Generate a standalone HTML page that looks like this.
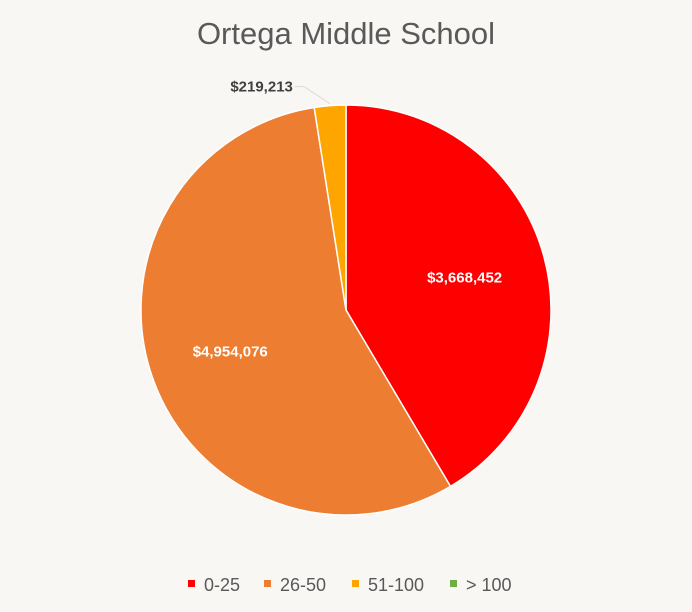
<!DOCTYPE html>
<html><head><meta charset="utf-8"><style>
body{margin:0;background:#f9f7f4;}
svg{display:block;font-family:"Liberation Sans",sans-serif;}
</style></head><body>
<svg id="c" width="692" height="612">
<rect width="692" height="612" fill="#f9f7f4"/>
<text x="346" y="44" text-anchor="middle" font-size="31" fill="#595959">Ortega Middle School</text>
<g id="slices"></g>
<g id="labels"></g>
<g id="legend"></g>
</svg>
<script>
const categories = ["0-25", "26-50", "51-100", "> 100"];
const values = [3668452, 4954076, 219213, 0];
const valueLabels = ["$3,668,452", "$4,954,076", "$219,213", ""];
const colors = ["#ff0000", "#ed7d31", "#ffa500", "#70ad47"];
const ns = "http://www.w3.org/2000/svg";
const cx = 346, cy = 310, r = 205;
const total = values.reduce((a, b) => a + b, 0);
const gS = document.getElementById("slices"), gL = document.getElementById("labels"), gG = document.getElementById("legend");
function pt(a, rr) { return [cx + rr * Math.sin(a), cy - rr * Math.cos(a)]; }
let a0 = 0;
values.forEach((v, i) => {
  if (v <= 0) return;
  const a1 = a0 + v / total * 2 * Math.PI;
  const p0 = pt(a0, r), p1 = pt(a1, r);
  const large = (a1 - a0) > Math.PI ? 1 : 0;
  const path = document.createElementNS(ns, "path");
  path.setAttribute("d", `M${cx},${cy}L${p0[0]},${p0[1]}A${r},${r} 0 ${large} 1 ${p1[0]},${p1[1]}Z`);
  path.setAttribute("fill", colors[i]);
  path.setAttribute("stroke", "#ffffff");
  path.setAttribute("stroke-width", "1.5");
  
  
  gS.appendChild(path);
  const mid = (a0 + a1) / 2;
  const t = document.createElementNS(ns, "text");
  if (v / total > 0.05) {
    const lp = pt(mid, r * 0.6);
    t.setAttribute("x", lp[0]); t.setAttribute("y", lp[1] + 5);
    t.setAttribute("fill", "#ffffff");
    t.setAttribute("text-anchor", "middle");
  } else {
    const e = pt(mid, r + 2);
    const line = document.createElementNS(ns, "polyline");
    line.setAttribute("points", `${e[0]},${e[1]} ${e[0] - 26},${e[1] - 17} ${e[0] - 35},${e[1] - 17}`);
    line.setAttribute("fill", "none");
    line.setAttribute("stroke", "#d9d9d9");
    
    
    gL.appendChild(line);
    t.setAttribute("x", e[0] - 37); t.setAttribute("y", e[1] - 12);
    t.setAttribute("fill", "#404040");
    t.setAttribute("text-anchor", "end");
  }
  t.setAttribute("font-size", "15");
  t.setAttribute("font-weight", "bold");
  t.textContent = valueLabels[i];
  
  
  gL.appendChild(t);
  a0 = a1;
});
const lx = [188, 264, 352, 450];
categories.forEach((c, i) => {
  const g = document.createElementNS(ns, "g");
  
  
  const s = document.createElementNS(ns, "rect");
  s.setAttribute("x", lx[i]); s.setAttribute("y", 580); s.setAttribute("width", 7); s.setAttribute("height", 7);
  s.setAttribute("fill", colors[i]);
  
  
  const t = document.createElementNS(ns, "text");
  t.setAttribute("x", lx[i] + 16); t.setAttribute("y", 591);
  t.setAttribute("font-size", "18"); t.setAttribute("fill", "#595959");
  t.textContent = c;
  
  
  g.appendChild(s); g.appendChild(t); gG.appendChild(g);
});
</script>
</body></html>
